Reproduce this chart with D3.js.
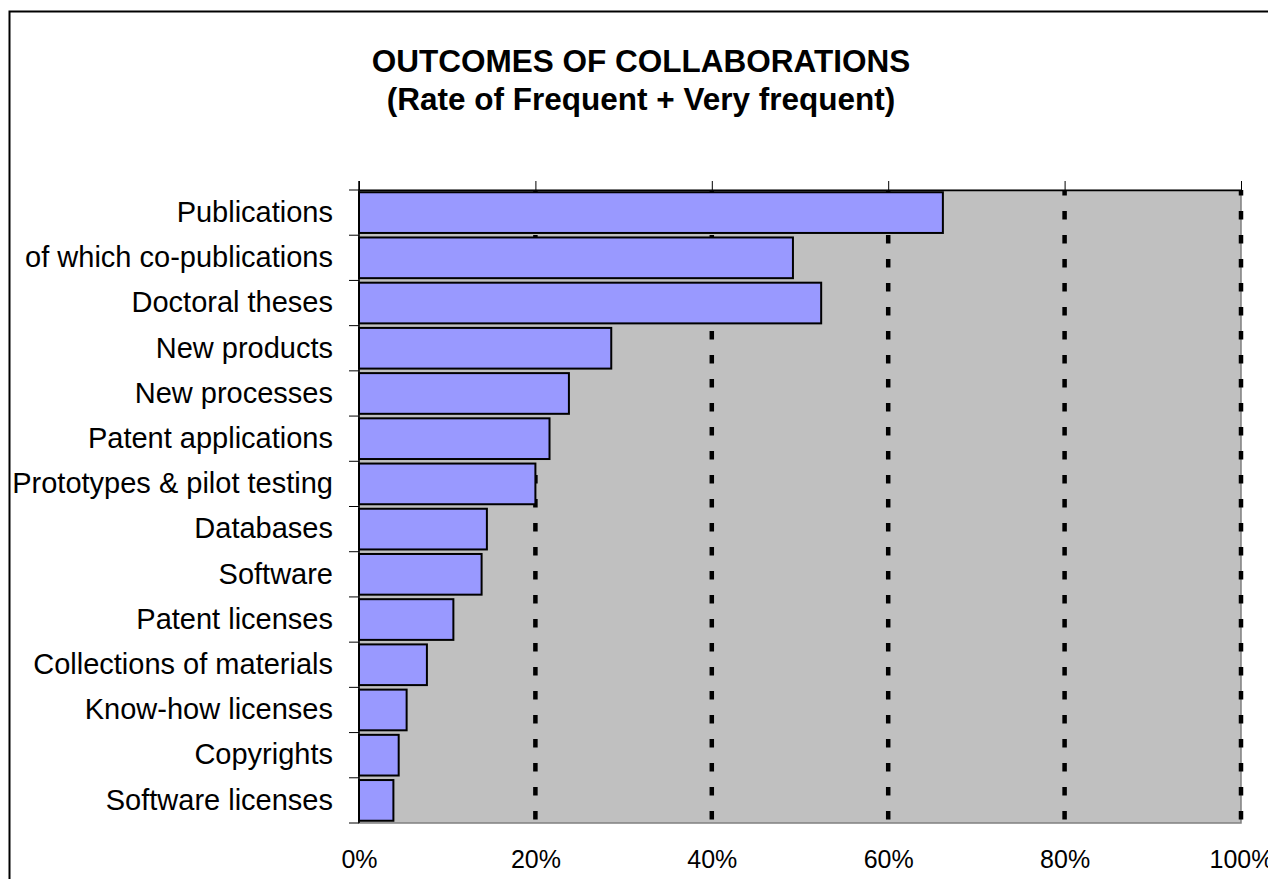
<!DOCTYPE html>
<html>
<head>
<meta charset="utf-8">
<script src="https://cdn.jsdelivr.net/npm/d3@7"></script>
<style>
  html, body { margin: 0; padding: 0; background: #fff; }
  svg { display: block; font-family: Arial, "Liberation Sans", sans-serif; }
</style>
</head>
<body>
<svg id="chart" width="1268" height="879"></svg>
<script>
const titleLines = ["OUTCOMES OF COLLABORATIONS", "(Rate of Frequent + Very frequent)"];
const categories = [
  "Publications", "of which co-publications", "Doctoral theses", "New products",
  "New processes", "Patent applications", "Prototypes & pilot testing", "Databases",
  "Software", "Patent licenses", "Collections of materials", "Know-how licenses",
  "Copyrights", "Software licenses"
];
const values = [66.2, 49.2, 52.4, 28.6, 23.8, 21.6, 20.0, 14.5, 13.9, 10.7, 7.7, 5.4, 4.5, 3.9];
const xTicks = [0, 20, 40, 60, 80, 100];
const xTickLabels = ["0%", "20%", "40%", "60%", "80%", "100%"];

const svg = d3.select("#chart");
const W = 1268, H = 879;
const plot = { left: 359, right: 1241, top: 190, bottom: 823 };

// outer chart border
svg.append("rect")
  .attr("x", 9.5).attr("y", 11.5)
  .attr("width", W + 20).attr("height", H + 20)
  .attr("fill", "#fff").attr("stroke", "#000").attr("stroke-width", 2);

// title
svg.append("text")
  .attr("x", 641).attr("y", 72)
  .attr("text-anchor", "middle")
  .attr("font-weight", "bold").attr("font-size", 31.5)
  .selectAll("tspan").data(titleLines).join("tspan")
  .attr("x", 641).attr("dy", (d, i) => i === 0 ? 0 : 38)
  .text(d => d);

const x = d3.scaleLinear().domain([0, 100]).range([plot.left, plot.right]);
const y = d3.scaleBand().domain(categories).range([plot.top, plot.bottom])
  .paddingInner(0.1).paddingOuter(0.05);
const step = y.step();

// plot area background
svg.append("rect")
  .attr("x", plot.left).attr("y", plot.top)
  .attr("width", plot.right - plot.left).attr("height", plot.bottom - plot.top)
  .attr("fill", "#c0c0c0").attr("stroke", "#808080").attr("stroke-width", 1.5);

// dashed gridlines
svg.append("g").selectAll("line").data(xTicks.filter(d => d > 0)).join("line")
  .attr("x1", d => x(d)).attr("x2", d => x(d))
  .attr("y1", plot.top).attr("y2", plot.bottom)
  .attr("stroke", "#000").attr("stroke-width", 4.5)
  .attr("stroke-dasharray", "8.5,15.5").attr("stroke-dashoffset", 3);

// bars
svg.append("g").selectAll("rect").data(values).join("rect")
  .attr("x", x(0))
  .attr("y", (d, i) => y(categories[i]))
  .attr("width", d => x(d) - x(0))
  .attr("height", y.bandwidth())
  .attr("fill", "#9999ff").attr("stroke", "#000").attr("stroke-width", 2);

// top axis with upward ticks, no labels
svg.append("g").attr("transform", `translate(0,${plot.top})`)
  .call(d3.axisTop(x).tickValues(xTicks).tickSize(9).tickSizeOuter(0).tickFormat(""))
  .call(g => g.select(".domain").attr("stroke", "#000").attr("stroke-width", 1.5))
  .call(g => g.selectAll(".tick line").attr("stroke", "#000").attr("stroke-width", 1));

// bottom tick labels
svg.append("g").attr("transform", `translate(0,${plot.bottom})`)
  .call(d3.axisBottom(x).tickValues(xTicks).tickSize(0).tickPadding(27)
    .tickFormat((d, i) => xTickLabels[i]))
  .call(g => g.select(".domain").remove())
  .call(g => g.selectAll("text").attr("font-size", 25).attr("fill", "#000")
    .attr("font-family", "Arial, 'Liberation Sans', sans-serif"));

// left axis: labels
svg.append("g").attr("transform", `translate(${plot.left},0)`)
  .call(d3.axisLeft(y).tickSize(0).tickPadding(26))
  .call(g => g.select(".domain").remove())
  .call(g => g.selectAll("text").attr("font-size", 29).attr("fill", "#000")
    .attr("font-family", "Arial, 'Liberation Sans', sans-serif"));

// left axis line and boundary ticks
const boundaries = categories.map(c => y(c) - step * y.paddingInner() / 2).concat([plot.bottom]);
svg.append("line")
  .attr("x1", plot.left).attr("x2", plot.left)
  .attr("y1", plot.top - 9).attr("y2", plot.bottom)
  .attr("stroke", "#000").attr("stroke-width", 1.5);
svg.append("g").selectAll("line").data(boundaries).join("line")
  .attr("x1", plot.left - 10).attr("x2", plot.left)
  .attr("y1", d => d).attr("y2", d => d)
  .attr("stroke", "#000").attr("stroke-width", 1);
</script>
</body>
</html>
